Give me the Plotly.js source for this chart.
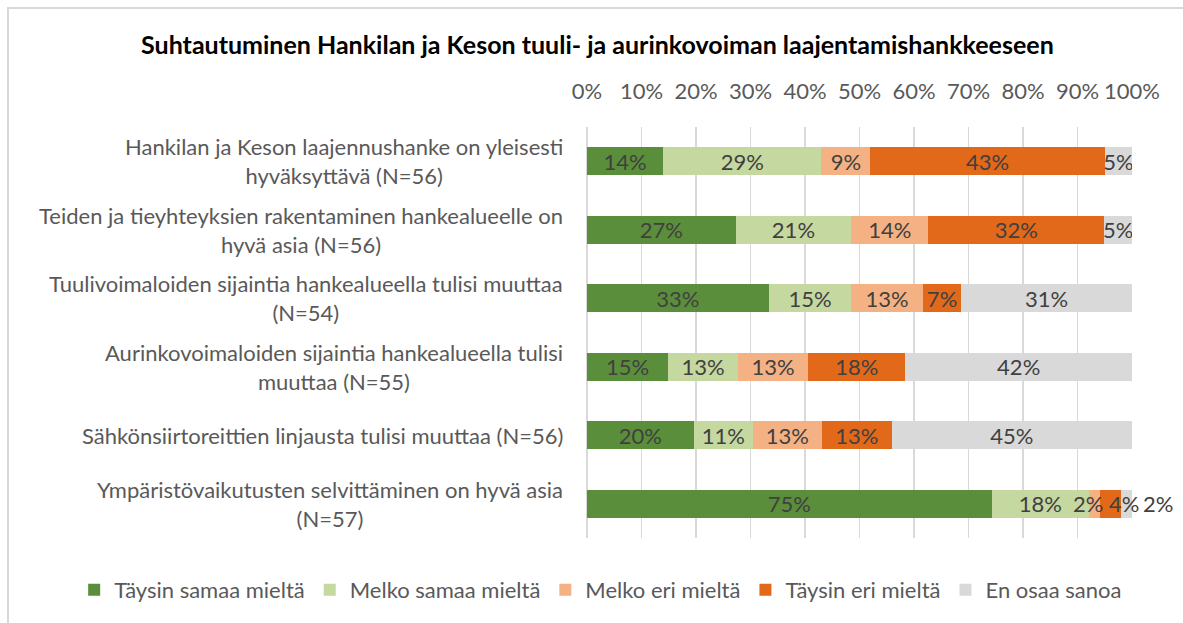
<!DOCTYPE html>
<html>
<head>
<meta charset="utf-8">
<script src="https://cdn.plot.ly/plotly-3.0.1.min.js"></script>
<style>
  html, body { margin: 0; padding: 0; background: #fff; }
  #wrap { position: relative; width: 1183px; height: 623px; overflow: hidden; }
  #chart { position: absolute; left: 0; top: 0; width: 1183px; height: 623px; }
  #frame { position: absolute; left: 7px; top: 7px; width: 1200px; height: 640px;
           border-top: 2px solid #d9d9d9; border-left: 2px solid #d9d9d9; pointer-events: none; }
</style>
</head>
<body>
<div id="wrap"><div id="chart"></div><div id="frame"></div></div>
<script>
const categories = [
  "Hankilan ja Keson laajennushanke on yleisesti<br>hyväksyttävä (N=56)",
  "Teiden ja tieyhteyksien rakentaminen hankealueelle on<br>hyvä asia (N=56)",
  "Tuulivoimaloiden sijaintia hankealueella tulisi muuttaa<br>(N=54)",
  "Aurinkovoimaloiden sijaintia hankealueella tulisi<br>muuttaa (N=55)",
  "Sähkönsiirtoreittien linjausta tulisi muuttaa (N=56)",
  "Ympäristövaikutusten selvittäminen on hyvä asia<br>(N=57)"
];
const seriesNames = ["Täysin samaa mieltä", "Melko samaa mieltä", "Melko eri mieltä", "Täysin eri mieltä", "En osaa sanoa"];
const taysinSamaa = [14, 27, 33, 15, 20, 75];
const melkoSamaa  = [29, 21, 15, 13, 11, 18];
const melkoEri    = [9, 14, 13, 13, 13, 2];
const taysinEri   = [43, 32, 7, 18, 13, 4];
const enOsaa      = [5, 5, 31, 42, 45, 2];
const tickLabels = ["0%","10%","20%","30%","40%","50%","60%","70%","80%","90%","100%"];

const colors = ["#5b8e3b", "#c5d8a0", "#f4b183", "#e2681a", "#d9d9d9"];
const allSeries = [taysinSamaa, melkoSamaa, melkoEri, taysinEri, enOsaa];
const fontFam = "Lato, 'Liberation Sans', sans-serif";
const fs = 22;
const lastRow = categories.length - 1;

// small segments in the last row get their labels placed beside the bars
const smallIdx = [2, 3, 4];

const traces = allSeries.map((vals, si) => ({
  type: 'bar',
  orientation: 'h',
  name: seriesNames[si],
  y: categories,
  x: vals,
  marker: { color: colors[si], line: { width: 0 } },
  text: vals.map(v => v + '%'),
  texttemplate: '%{text}',
  textposition: vals.map((v, i) => (i === lastRow && smallIdx.includes(si)) ? 'none' : 'inside'),
  insidetextanchor: 'middle',
  textangle: 0,
  constraintext: 'none',
  textfont: { family: fontFam, size: fs, color: '#404040' },
  hoverinfo: 'skip'
}));

// cumulative normalized positions for the last row
const rowVals = allSeries.map(s => s[lastRow]);
const rowSum = rowVals.reduce((a, b) => a + b, 0);
const cum = [];
let acc = 0;
rowVals.forEach(v => { acc += v; cum.push(acc / rowSum * 100); });

const annotations = categories.map(c => ({
  xref: 'paper', yref: 'y', x: 0, y: c, xanchor: 'right', yanchor: 'middle',
  xshift: -22, align: 'center', showarrow: false, text: c,
  font: { family: fontFam, size: fs, color: '#595959' }
}));
annotations.push({
  xref: 'x', yref: 'y', x: cum[2], y: categories[lastRow], xanchor: 'right', xshift: 5,
  showarrow: false, text: rowVals[2] + '%', font: { family: fontFam, size: fs, color: '#404040' }
});
annotations.push({
  xref: 'x', yref: 'y', x: cum[2], y: categories[lastRow], xanchor: 'left', xshift: 7,
  showarrow: false, text: rowVals[3] + '%', font: { family: fontFam, size: fs, color: '#404040' }
});
annotations.push({
  xref: 'x', yref: 'y', x: cum[4], y: categories[lastRow], xanchor: 'left', xshift: 9,
  showarrow: false, text: rowVals[4] + '%', font: { family: fontFam, size: fs, color: '#404040' }
});

const layout = {
  width: 1183, height: 623,
  paper_bgcolor: 'rgba(0,0,0,0)', plot_bgcolor: '#fff',
  margin: { l: 587, r: 51, t: 127, b: 85 },
  title: {
    text: '<b>Suhtautuminen Hankilan ja Keson tuuli- ja aurinkovoiman laajentamishankkeeseen</b>',
    x: 0.505, xref: 'container', xanchor: 'center',
    y: 0.928, yref: 'container', yanchor: 'middle',
    font: { family: fontFam, size: 25, color: '#000' }
  },
  barmode: 'stack',
  barnorm: 'percent',
  bargap: 0.59,
  xaxis: {
    side: 'top', range: [0, 100], tickmode: 'array',
    tickvals: tickLabels.map((t, i) => i * 10), ticktext: tickLabels,
    showgrid: true, gridcolor: '#d9d9d9', gridwidth: 1.5,
    zeroline: true, zerolinecolor: '#d9d9d9', zerolinewidth: 1.5,
    showline: false, ticks: 'outside', ticklen: 18, tickcolor: 'rgba(0,0,0,0)',
    tickfont: { family: fontFam, size: fs, color: '#595959' },
    fixedrange: true
  },
  yaxis: {
    type: 'category', autorange: 'reversed', showticklabels: false,
    showgrid: false, zeroline: false, showline: false, ticks: '', fixedrange: true
  },
  legend: {
    orientation: 'h', xref: 'paper', x: -0.941, xanchor: 'left',
    yref: 'paper', y: -0.1265, yanchor: 'middle',
    traceorder: 'normal',
    font: { family: fontFam, size: fs, color: '#595959' },
    itemclick: false, itemdoubleclick: false
  },
  annotations: annotations,
  showlegend: true
};

Plotly.newPlot('chart', traces, layout, { displayModeBar: false, staticPlot: true });
</script>
</body>
</html>
